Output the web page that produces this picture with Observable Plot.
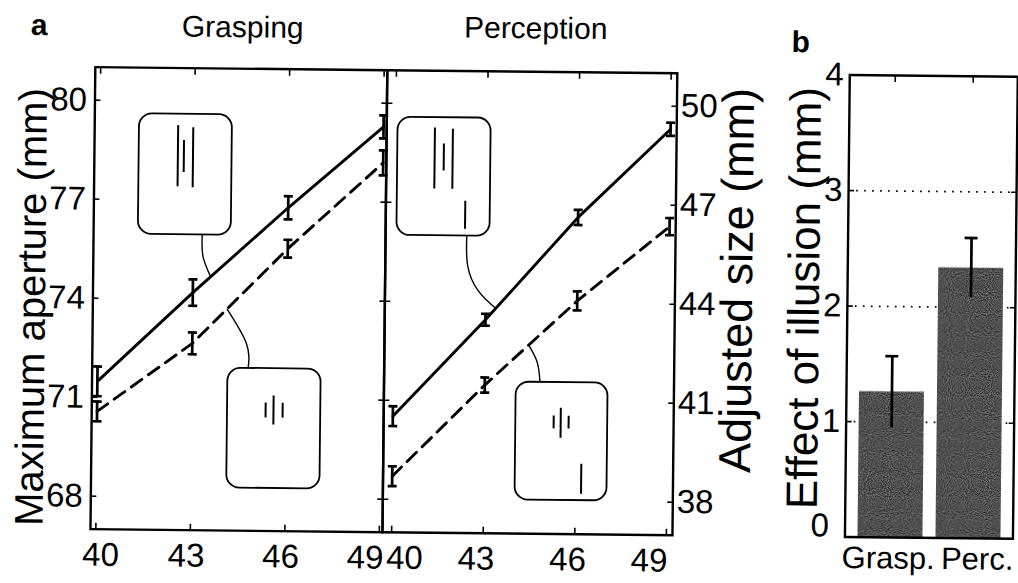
<!DOCTYPE html>
<html><head><meta charset="utf-8">
<script src="https://cdn.jsdelivr.net/npm/d3@7"></script>
<script src="https://cdn.jsdelivr.net/npm/@observablehq/plot@0.6"></script>
<style>
html,body{margin:0;padding:0;background:#fff;overflow:hidden}
#fig{position:relative;width:1018px;height:583px;transform:rotate(0.6deg);transform-origin:509px 291px;font-family:"Liberation Sans",Arial,sans-serif}
#fig svg{position:absolute;left:0;top:0;overflow:visible}
</style></head>
<body><div id="fig"></div>
<script>
// ---- data ----
const sizes = [40, 43, 46, 49];
const graspLong = [71.48, 74.2, 76.8, 79.28];
const graspLongErr = [0.45, 0.4, 0.35, 0.35];
const graspShort = [70.57, 72.66, 75.56, 78.19];
const graspShortErr = [0.3, 0.33, 0.27, 0.38];
const percLong = [40.52, 43.47, 46.6, 49.3];
const percLongErr = [0.3, 0.18, 0.23, 0.2];
const percShort = [38.7, 41.49, 44.07, 46.35];
const percShortErr = [0.3, 0.23, 0.29, 0.26];
const tasks = ["Grasp.", "Perc."];
const effects = [1.26, 2.34];
const effectErr = [0.31, 0.26];
const graspTicks = [68, 71, 74, 77, 80];
const percTicks = [38, 41, 44, 47, 50];
const sizeTicks = [40, 43, 46, 49];
const effectTicks = [0, 1, 2, 3, 4];
const gridTicks = [1, 2, 3];

// ---- stimulus insets (annotation geometry, in data units) ----
const graspBoxes = [{x1:41.25,x2:44.2,y1:75.95,y2:79.6},{x1:44.14,x2:47.1,y1:68.29,y2:71.92}];
const graspStrokes = [
  {x:42.48,y1:77.42,y2:79.27},{x:42.67,y1:77.85,y2:78.82},{x:42.96,y1:77.39,y2:79.21},
  {x:45.35,y1:70.44,y2:70.89},{x:45.6,y1:70.23,y2:71.11},{x:45.89,y1:70.44,y2:70.89}];
const graspLeaders = [
  {id:0,x:43.28,y:75.95},{id:0,x:43.31,y:75.3},{id:0,x:43.56,y:74.69},
  {id:1,x:44.78,y:71.92},{id:1,x:44.72,y:72.67},{id:1,x:44.1,y:73.7}];
const percBoxes = [{x1:40.07,x2:43.12,y1:46.0,y2:49.58},{x1:44.03,x2:47.04,y1:38.02,y2:41.59}];
const percStrokes = [
  {x:41.28,y1:47.43,y2:49.28},{x:41.58,y1:47.98,y2:48.8},{x:41.87,y1:47.43,y2:49.25},{x:42.3,y1:46.22,y2:47.07},
  {x:45.27,y1:40.2,y2:40.59},{x:45.5,y1:39.92,y2:40.83},{x:45.76,y1:40.2,y2:40.59},{x:46.19,y1:38.23,y2:39.14}];
const percLeaders = [
  {id:0,x:42.36,y:46.0},{id:0,x:42.4,y:45.1},{id:0,x:42.75,y:44.35},{id:0,x:43.33,y:43.82},
  {id:1,x:44.81,y:41.59},{id:1,x:44.71,y:42.2},{id:1,x:44.42,y:42.72}];

// ---- build tables ----
const series = (xs, ys, es, cond) => xs.map((x, i) => ({x, y: ys[i], lo: ys[i] - es[i], hi: ys[i] + es[i], cond}));
const grasp = [...series(sizes, graspLong, graspLongErr, "long"), ...series(sizes, graspShort, graspShortErr, "short")];
const perc = [...series(sizes, percLong, percLongErr, "long"), ...series(sizes, percShort, percShortErr, "short")];
const effectData = tasks.map((t, i) => ({t, v: effects[i], lo: effects[i] - effectErr[i], hi: effects[i] + effectErr[i]}));

const W = 1018, H = 583, TOP = 71, BOTTOM = 533;
const FONT = "'Liberation Sans', Arial, sans-serif";
const frameOpts = (l, r) => ({width: W, height: H, marginLeft: l, marginRight: W - r, marginTop: TOP, marginBottom: H - BOTTOM});
const style = {background: "transparent", fontFamily: FONT, fontSize: "33px", color: "#000", overflow: "visible"};
const cap = {draw(ctx) { ctx.moveTo(-4.5, 0); ctx.lineTo(4.5, 0); }};
const fmt = d3.format("d");

function linePanel(data, l, r, xDomain, yDomain, yTicks, yAnchor, yPad, boxes, strokes, leaders, labelDx) {
  const other = yAnchor === "left" ? "right" : "left";
  const errMarks = (d) => [
    Plot.ruleX(d, {x: "x", y1: "lo", y2: "hi", stroke: "#000", strokeWidth: 2.7}),
    Plot.dot(d, {x: "x", y: "lo", symbol: cap, r: 4, stroke: "#000", fill: "none", strokeWidth: 2.7}),
    Plot.dot(d, {x: "x", y: "hi", symbol: cap, r: 4, stroke: "#000", fill: "none", strokeWidth: 2.7})
  ];
  const xLab = (ticks, dx) => Plot.axisX(ticks, {anchor: "bottom", tickSize: 0, tickPadding: 13, label: null, dx, tickFormat: fmt});
  return Plot.plot({
    ...frameOpts(l, r),
    style,
    x: {domain: xDomain},
    y: {domain: yDomain},
    marks: [
      Plot.line(data.filter(d => d.cond === "long"), {x: "x", y: "y", stroke: "#000", strokeWidth: 2.9}),
      Plot.line(data.filter(d => d.cond === "short"), {x: "x", y: "y", stroke: "#000", strokeWidth: 2.9, strokeDasharray: "13,8"}),
      ...errMarks(data),
      Plot.line(leaders, {x: "x", y: "y", z: "id", curve: "natural", stroke: "#000", strokeWidth: 1.4}),
      Plot.rect(boxes, {x1: "x1", x2: "x2", y1: "y1", y2: "y2", fill: "#fff", stroke: "#000", strokeWidth: 1.8, rx: 13}),
      Plot.link(strokes, {x1: "x", x2: "x", y1: "y1", y2: "y2", stroke: "#000", strokeWidth: 2}),
      Plot.frame({stroke: "#000", strokeWidth: 2.4}),
      Plot.axisY(yTicks, {anchor: yAnchor, tickSize: -6, tickPadding: yPad, label: null, strokeWidth: 1.6, tickFormat: fmt}),
      Plot.axisY(yTicks, {anchor: other, tickSize: -6, tickFormat: () => "", label: null, strokeWidth: 1.6}),
      Plot.axisX(sizeTicks, {anchor: "bottom", tickSize: -6, tickFormat: () => "", label: null, strokeWidth: 1.6}),
      Plot.axisX(sizeTicks, {anchor: "top", tickSize: -6, tickFormat: () => "", label: null, strokeWidth: 1.6}),
      xLab([40], labelDx[0]),
      xLab([43, 46], labelDx[1]),
      xLab([49], labelDx[2])
    ]
  });
}

const fig = document.getElementById("fig");
fig.append(linePanel(grasp, 92.5, 384.5, [39.83, 49.1], [67, 81], graspTicks, "left", 14, graspBoxes, graspStrokes, graspLeaders, [5, -4, -14]));
fig.append(linePanel(perc, 384.5, 674.5, [39.7, 49.2], [37, 51], percTicks, "right", 10, percBoxes, percStrokes, percLeaders, [13, -7, -17]));

const barPlot = Plot.plot({
  ...frameOpts(847, 1015),
  style,
  x: {type: "band", domain: tasks, paddingInner: 0.167, paddingOuter: 0.16},
  y: {domain: [0, 4]},
  marks: [
    Plot.ruleY(gridTicks, {stroke: "#000", strokeWidth: 1.7, strokeDasharray: "1.7,6.3"}),
    Plot.barY(effectData, {x: "t", y: "v", fill: "#505050"}),
    Plot.ruleX(effectData, {x: "t", y1: "lo", y2: "hi", stroke: "#000", strokeWidth: 2.7}),
    Plot.tickY(effectData, {x: "t", y: "hi", stroke: "#000", strokeWidth: 2.7, insetLeft: 26, insetRight: 26}),
    Plot.frame({stroke: "#000", strokeWidth: 2.4}),
    Plot.axisY(effectTicks.filter(d => d > 0), {anchor: "left", tickSize: -6, tickPadding: 12, label: null, strokeWidth: 1.6, tickFormat: fmt}),
    Plot.axisY([0], {anchor: "left", tickSize: 0, tickPadding: 12, label: null, dx: -4, dy: -11, tickFormat: fmt}),
    Plot.axisY(effectTicks, {anchor: "right", tickSize: -6, tickFormat: () => "", label: null, strokeWidth: 1.6}),
    Plot.axisX(["Grasp."], {anchor: "bottom", tickSize: 0, tickPadding: 9, label: null, dx: -2, fontSize: 31}),
    Plot.axisX(["Perc."], {anchor: "bottom", tickSize: 0, tickPadding: 9, label: null, dx: 9, fontSize: 31}),
    Plot.axisX(tasks, {anchor: "top", tickSize: -6, tickFormat: () => "", label: null, strokeWidth: 1.6})
  ]
});
fig.append(barPlot);

// ---- titles, axis titles, and a grain texture for the bars ----
const svg = d3.select(fig).append("svg").attr("width", W).attr("height", H)
  .style("font-family", FONT).style("pointer-events", "none");
const filt = svg.append("defs").append("filter").attr("id", "grain")
  .attr("x", 0).attr("y", 0).attr("width", 1).attr("height", 1)
  .attr("color-interpolation-filters", "sRGB");
filt.append("feTurbulence").attr("type", "fractalNoise").attr("baseFrequency", 0.95).attr("numOctaves", 1).attr("seed", 7).attr("result", "noise");
filt.append("feColorMatrix").attr("in", "noise").attr("type", "matrix")
  .attr("values", "1 0 0 0 0  1 0 0 0 0  1 0 0 0 0  0 0 0 0 1").attr("result", "gray");
filt.append("feComposite").attr("in", "gray").attr("in2", "SourceGraphic").attr("operator", "arithmetic")
  .attr("k1", 0).attr("k2", 0.8).attr("k3", 1).attr("k4", -0.4).attr("result", "mix");
filt.append("feComposite").attr("in", "mix").attr("in2", "SourceGraphic").attr("operator", "in");
d3.select(barPlot).selectAll("g[aria-label='bar'] rect").attr("filter", "url(#grain)");

const txt = (x, y, s, opts = {}) => svg.append("text").attr("x", x).attr("y", y)
  .attr("text-anchor", opts.anchor || "middle").attr("font-size", opts.size || 30)
  .attr("font-weight", opts.weight || "normal")
  .attr("transform", opts.rot ? `rotate(-90 ${x} ${y})` : null).text(s);
txt(28, 40, "a", {anchor: "start", weight: "bold", size: 30});
txt(240, 40, "Grasping");
txt(533, 38, "Perception");
txt(789, 49, "b", {anchor: "start", weight: "bold", size: 30});
txt(45, 312, "Maximum aperture (mm)", {rot: true, size: 40});
txt(752, 278, "Adjusted size (mm)", {rot: true, size: 45});
txt(819, 295, "Effect of illusion (mm)", {rot: true, size: 44});
</script>
</body></html>
